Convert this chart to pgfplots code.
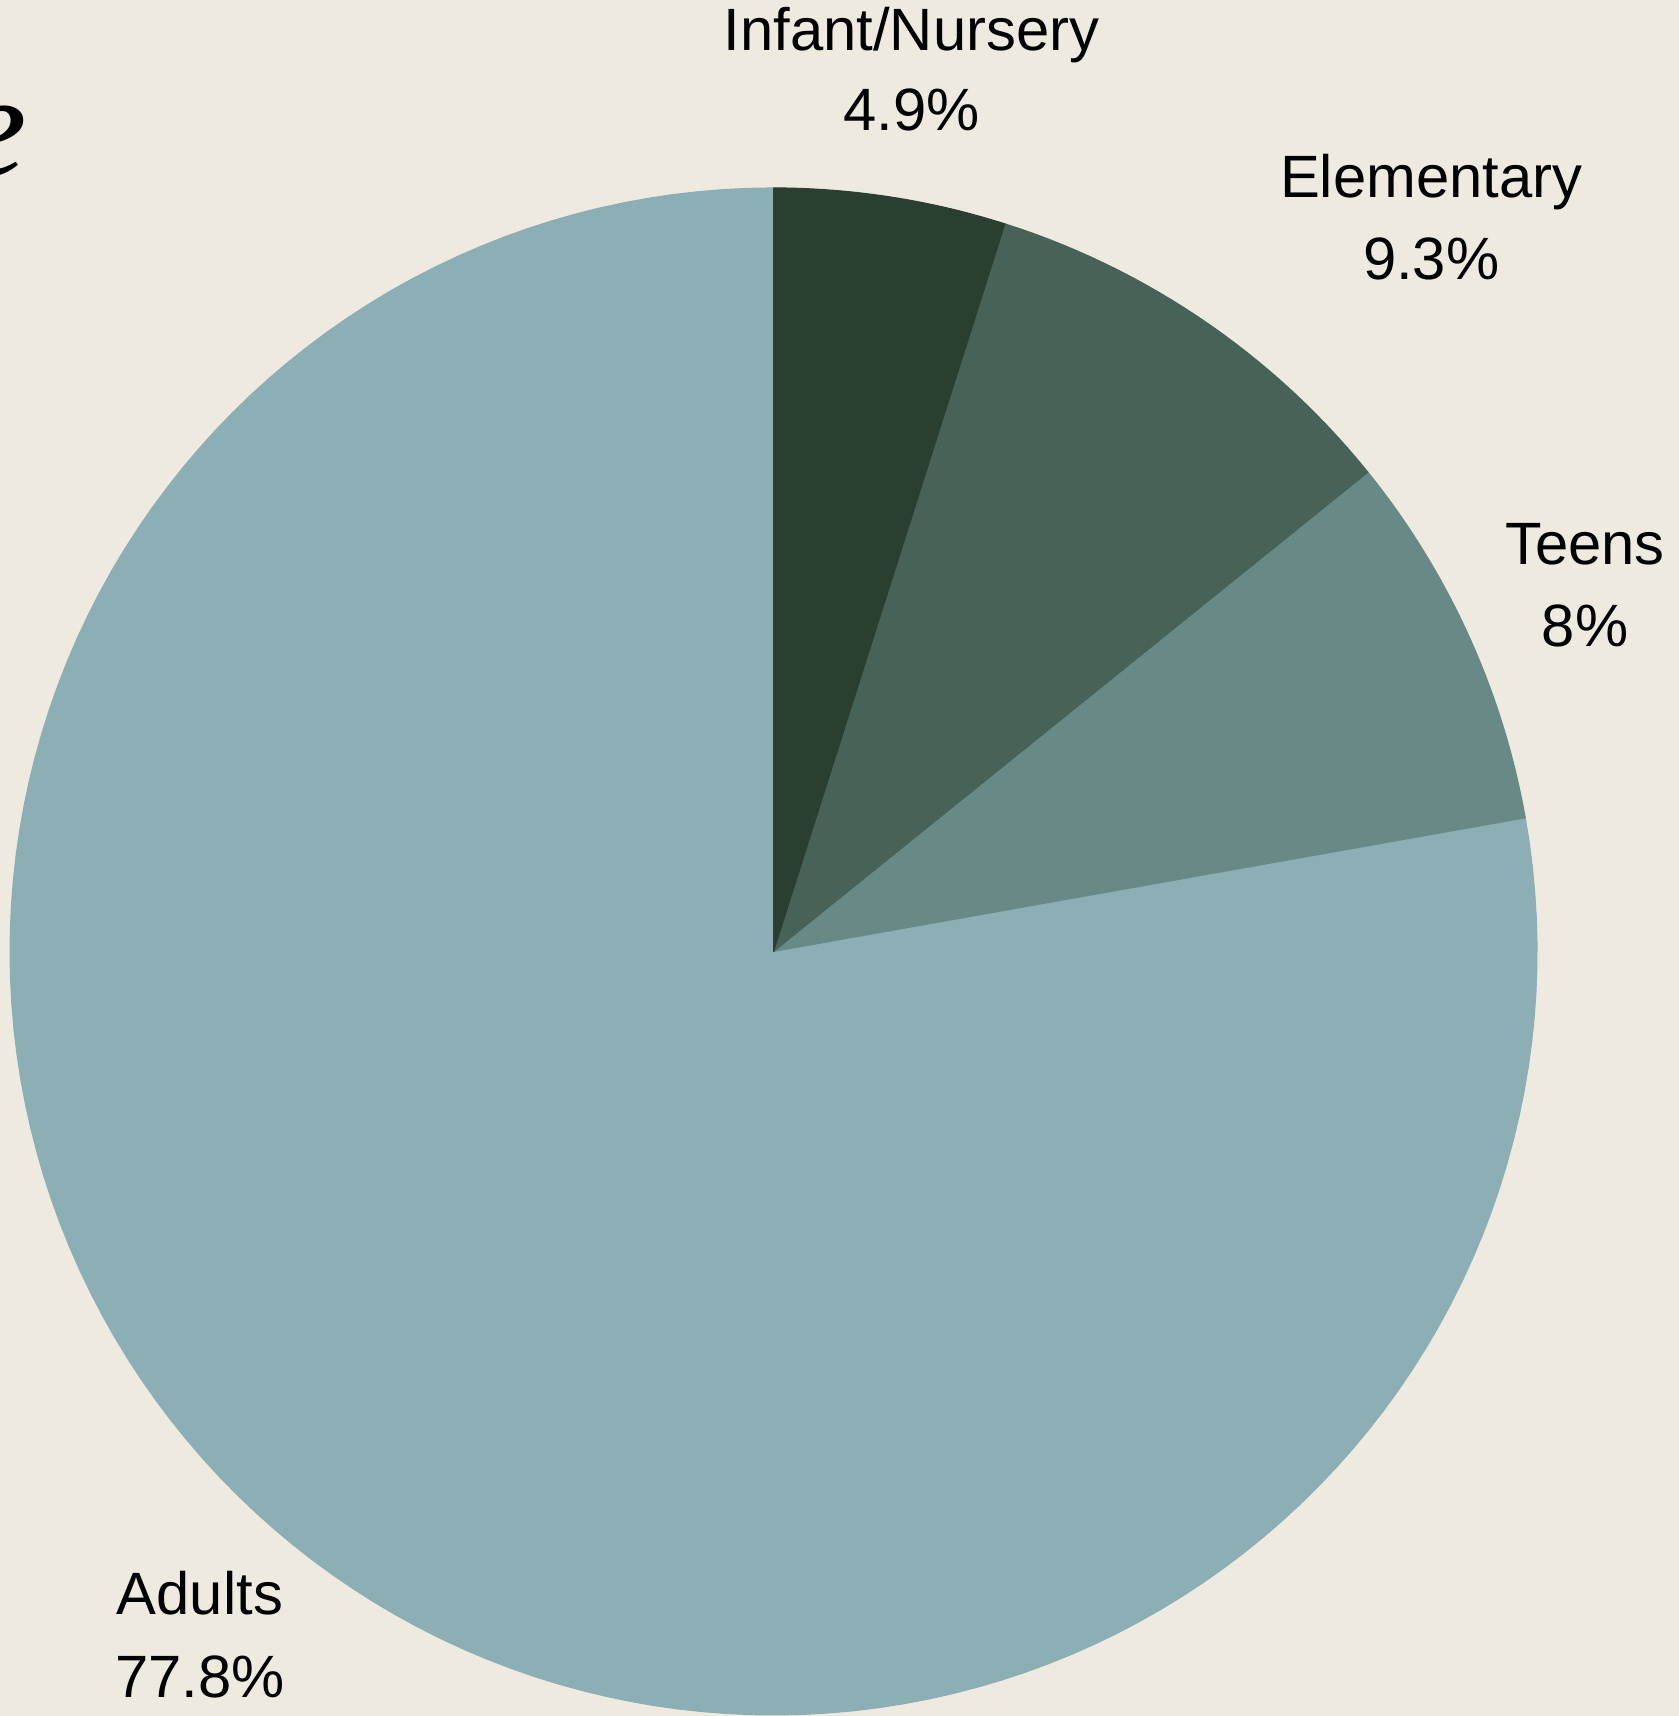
\documentclass[border=0pt]{standalone}
\usepackage{pgfplots}
\pgfplotsset{compat=1.18}
\usepackage{fontspec}
\setmainfont{Liberation Sans}
\newfontfamily\titlefont{Liberation Serif}

\definecolor{bg}{HTML}{EEEADF}
\definecolor{cInf}{HTML}{2B3F30}
\definecolor{cEle}{HTML}{476358}
\definecolor{cTee}{HTML}{678A86}
\definecolor{cAdu}{HTML}{8CAFB6}
\definecolor{txt}{HTML}{000000}

\tikzset{lbl/.style={anchor=base, font=\fontsize{17}{20}\selectfont, text=txt}}

\begin{document}
\begin{tikzpicture}
\fill[bg] (0,0) rectangle (16.79cm,17.16cm);
\clip (0,0) rectangle (16.79cm,17.16cm);
\begin{axis}[
  x=0.01cm, y=0.01cm,
  xmin=0, xmax=1679, ymin=0, ymax=1716,
  hide axis, clip=true,
  every axis plot/.append style={line width=0.3pt, line join=round},
]
% shares in percent: Infant/Nursery 4.9, Elementary 9.3, Teens 8, Adults 77.8
% pie centre (774,765), radius 764, slices run clockwise from 12 o'clock
\addplot[draw=cAdu, fill=cAdu, domain={90-3.6*(4.9+9.3+8+77.8)}:{90-3.6*(4.9+9.3+8)}, samples=150]
  ({774+764*cos(x)}, {765+764*sin(x)}) -- (axis cs:774,765) -- cycle;
\addplot[draw=cTee, fill=cTee, domain={90-3.6*(4.9+9.3+8)}:{90-3.6*(4.9+9.3)}, samples=30]
  ({774+764*cos(x)}, {765+764*sin(x)}) -- (axis cs:774,765) -- cycle;
\addplot[draw=cEle, fill=cEle, domain={90-3.6*(4.9+9.3)}:{90-3.6*4.9}, samples=30]
  ({774+764*cos(x)}, {765+764*sin(x)}) -- (axis cs:774,765) -- cycle;
\addplot[draw=cInf, fill=cInf, domain={90-3.6*4.9}:90, samples=20]
  ({774+764*cos(x)}, {765+764*sin(x)}) -- (axis cs:774,765) -- cycle;

\node[lbl] at (axis cs:912,1666) {Infant/Nursery};
\node[lbl] at (axis cs:912,1586) {4.9\%};
\node[lbl] at (axis cs:1432,1519) {Elementary};
\node[lbl] at (axis cs:1432,1437) {9.3\%};
\node[lbl] at (axis cs:1586,1152) {Teens};
\node[lbl] at (axis cs:1586,1070) {8\%};
\node[lbl] at (axis cs:200,102) {Adults};
\node[lbl] at (axis cs:200,19) {77.8\%};

\node[anchor=base east, inner sep=0pt, text=txt,
  font=\titlefont\itshape\fontsize{42}{44}\selectfont] at (axis cs:28,1541) {e};
\end{axis}
\end{tikzpicture}
\end{document}
